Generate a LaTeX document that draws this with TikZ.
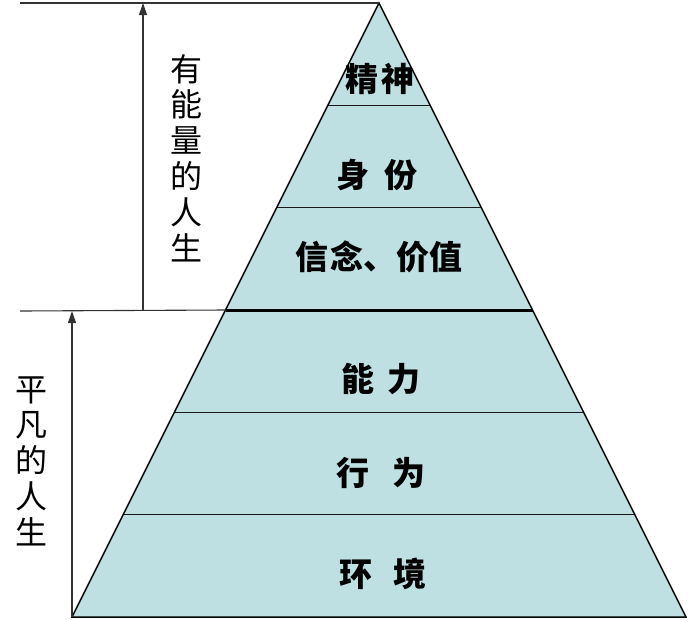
\documentclass[tikz,border=0pt]{standalone}
\usepackage{fontspec}
\newfontfamily\cjk{Noto Sans CJK SC}
\usetikzlibrary{calc,arrows.meta}
\definecolor{pyrcol}{RGB}{190,224,226}
\begin{document}
\begin{tikzpicture}[x=1pt,y=-1pt,
  layerline/.style={draw=black!90, line width=1.2pt},
  guide/.style={draw=black!80, line width=1.1pt},
  arr/.style={guide,-{Triangle[width=8pt,length=12pt]}},
  lbl/.style={font=\cjk\bfseries\fontsize{33}{33}\selectfont, inner sep=0pt},
  side/.style={font=\cjk\fontsize{32}{35.8}\selectfont, align=center, inner sep=0pt}]
\useasboundingbox (0,0) rectangle (690,619);
\coordinate (apex) at (379,3);
\coordinate (bl) at (72,617);
\coordinate (br) at (686,617);
\foreach \i in {1,...,5} {
  \coordinate (L\i) at ($(apex)!\i/6!(bl)$);
  \coordinate (R\i) at ($(apex)!\i/6!(br)$);
}
\fill[pyrcol] (apex) -- (bl) -- (br) -- cycle;
\foreach \i in {1,2,4,5} \draw[layerline] (L\i) -- (R\i);
\draw[line width=3pt] (L3) -- (R3);
\draw[line width=1.5pt, line join=miter] (bl) -- (apex) -- (br) -- cycle;
% guides
\coordinate (topL) at (20,3);
\coordinate (midL) at (20,311);
\draw[guide] (topL) -- (apex);
\draw[guide] (midL) -- (L3);
\coordinate (a1b) at (143,311);
\coordinate (a1t) at (143,3);
\draw[arr] (a1b) -- (a1t);
\coordinate (a2t) at (72,311);
\draw[arr] (bl) -- (a2t);
% labels
\node[lbl] (jingshen) at (380,79) {精\hspace{0.09em}神};
\node[lbl] (shenfen) at (377,175) {身\hspace{0.45em}份};
\node[lbl] (xinnian) at (379,257) {信\hspace{0.06em}念、价值};
\node[lbl] (nengli) at (381,379) {能\hspace{0.42em}力};
\node[lbl] (xingwei) at (381,473) {行\hspace{0.67em}为};
\node[lbl] (huanjing) at (383,574) {环\hspace{0.64em}境};
\node[side] (youneng) at (186,158) {有\\能\\量\\的\\人\\生};
\node[side] (pingfan) at (32,461) {平\\凡\\的\\人\\生};
\end{tikzpicture}
\end{document}
